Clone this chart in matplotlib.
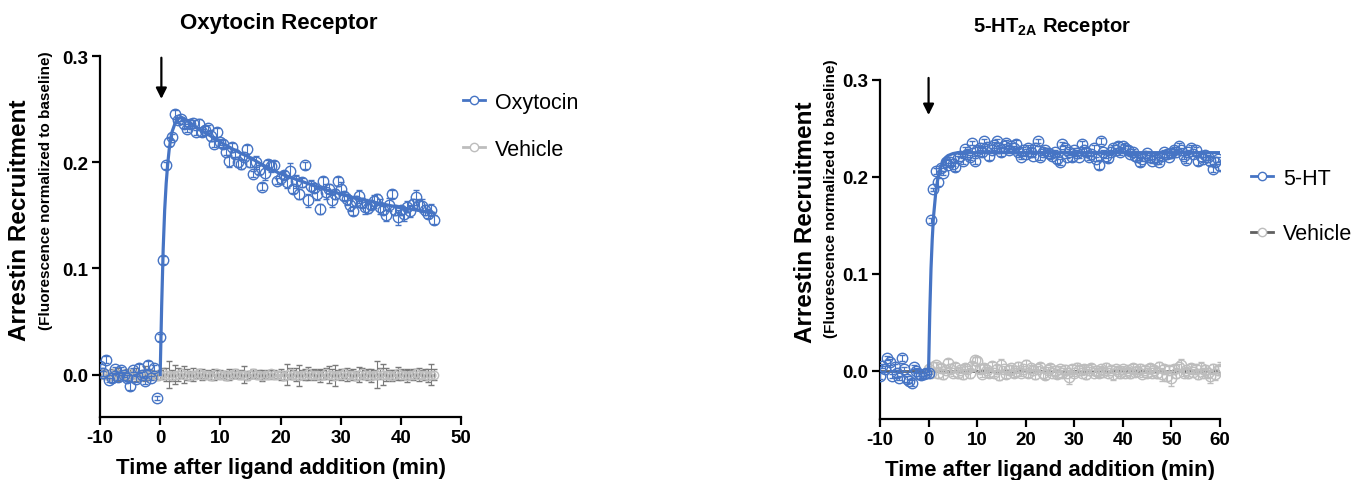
import numpy as np
import matplotlib
matplotlib.use("Agg")
import matplotlib.pyplot as plt
from matplotlib.lines import Line2D

plt.rcParams['font.family'] = ['Liberation Sans', 'DejaVu Sans']
plt.rcParams['mathtext.fontset'] = 'custom'
plt.rcParams['mathtext.rm'] = 'Liberation Sans:bold'
plt.rcParams['mathtext.bf'] = 'Liberation Sans:bold'
plt.rcParams['axes.unicode_minus'] = False

BLUE = '#4674c4'
LGRAY = '#bdbdbd'
DGRAY = '#7a7a7a'

# ---------------- Oxytocin receptor (left) ----------------
oxt_t = np.arange(-10, 45.51, 0.5)
oxt_y = [0.008, 0.001, 0.014, -0.005, -0.003, 0.005, -0.002, 0.004, 0.000, -0.003,
         -0.011, 0.004, -0.004, 0.006, 0.000, -0.006, 0.009, -0.003, 0.006, -0.022,
         0.035, 0.108, 0.197, 0.219, 0.224, 0.245, 0.240, 0.241, 0.236, 0.231,
         0.236, 0.237, 0.228, 0.236, 0.228, 0.230, 0.232, 0.225, 0.217, 0.228,
         0.219, 0.217, 0.210, 0.201, 0.214, 0.208, 0.200, 0.198, 0.205, 0.212,
         0.200, 0.189, 0.200, 0.193, 0.177, 0.190, 0.198, 0.196, 0.197, 0.182,
         0.185, 0.188, 0.181, 0.192, 0.175, 0.182, 0.170, 0.181, 0.197, 0.164,
         0.178, 0.176, 0.170, 0.156, 0.182, 0.172, 0.175, 0.164, 0.170, 0.182,
         0.175, 0.168, 0.165, 0.160, 0.154, 0.163, 0.168, 0.162, 0.158, 0.157,
         0.160, 0.163, 0.165, 0.158, 0.155, 0.150, 0.160, 0.170, 0.155, 0.148,
         0.155, 0.151, 0.158, 0.154, 0.161, 0.167, 0.160, 0.159, 0.155, 0.151,
         0.155, 0.146]
oxt_err = [0.002, 0.002, 0.003, 0.002, 0.004, 0.002, 0.003, 0.003, 0.002, 0.003,
           0.004, 0.002, 0.003, 0.004, 0.002, 0.003, 0.004, 0.002, 0.003, 0.002,
           0.003, 0.004, 0.003, 0.004, 0.003, 0.004, 0.003, 0.002, 0.004, 0.003,
           0.004, 0.003, 0.002, 0.005, 0.003, 0.004, 0.003, 0.005, 0.003, 0.004,
           0.003, 0.004, 0.003, 0.006, 0.004, 0.003, 0.005, 0.004, 0.003, 0.004,
           0.005, 0.003, 0.006, 0.004, 0.003, 0.007, 0.004, 0.005, 0.004, 0.003,
           0.006, 0.004, 0.005, 0.007, 0.004, 0.006, 0.005, 0.004, 0.003, 0.006,
           0.005, 0.004, 0.006, 0.005, 0.004, 0.007, 0.004, 0.006, 0.005, 0.004,
           0.006, 0.004, 0.005, 0.006, 0.004, 0.005, 0.006, 0.004, 0.007, 0.005,
           0.004, 0.006, 0.005, 0.007, 0.004, 0.005, 0.006, 0.004, 0.005, 0.007,
           0.004, 0.006, 0.005, 0.006, 0.004, 0.007, 0.005, 0.006, 0.005, 0.004,
           0.006, 0.004]
veh1_y = [0.000, 0.001, 0.000, -0.001, 0.000, 0.001, 0.000, 0.000, -0.001, 0.000,
          0.001, 0.000, 0.000, -0.001, 0.000, 0.001, 0.000, 0.000, 0.000, -0.001,
          0.000, 0.001, 0.000, 0.000, -0.001, 0.000, 0.000, 0.001, 0.000, 0.000,
          -0.001, 0.000, 0.000, 0.001, 0.000, 0.000, 0.000, -0.001, 0.000, 0.001,
          0.000, 0.000, -0.001, 0.000, 0.000, 0.001, 0.000, 0.000, 0.000, -0.001,
          0.000, 0.001, 0.000, 0.000, -0.001, 0.000, 0.000, 0.001, 0.000, 0.000,
          0.000, -0.001, 0.000, 0.001, 0.000, 0.000, -0.001, 0.000, 0.000, 0.001,
          0.000, 0.000, 0.000, -0.001, 0.000, 0.001, 0.000, 0.000, -0.001, 0.000,
          0.000, 0.001, 0.000, 0.000, 0.000, -0.001, 0.000, 0.001, 0.000, 0.000,
          -0.001, 0.000, 0.000, 0.001, 0.000, 0.000, 0.000, -0.001, 0.000, 0.001,
          0.000, 0.000, -0.001, 0.000, 0.000, 0.001, 0.000, 0.000, 0.000, -0.001,
          0.000, 0.000]
veh1_err = [0.003, 0.002, 0.004, 0.003, 0.005, 0.003, 0.006, 0.004, 0.003, 0.005,
            0.004, 0.003, 0.006, 0.004, 0.003, 0.007, 0.005, 0.004, 0.003, 0.004,
            0.004, 0.005, 0.006, 0.013, 0.005, 0.009, 0.006, 0.004, 0.008, 0.005,
            0.004, 0.006, 0.003, 0.004, 0.005, 0.003, 0.004, 0.004, 0.005, 0.003,
            0.004, 0.003, 0.004, 0.005, 0.003, 0.004, 0.003, 0.004, 0.008, 0.004,
            0.003, 0.004, 0.003, 0.004, 0.005, 0.003, 0.004, 0.003, 0.004, 0.003,
            0.005, 0.004, 0.010, 0.005, 0.004, 0.006, 0.010, 0.004, 0.005, 0.006,
            0.004, 0.005, 0.004, 0.006, 0.004, 0.005, 0.008, 0.005, 0.010, 0.004,
            0.005, 0.004, 0.006, 0.004, 0.005, 0.004, 0.007, 0.005, 0.004, 0.005,
            0.006, 0.004, 0.013, 0.005, 0.010, 0.006, 0.004, 0.005, 0.004, 0.006,
            0.005, 0.004, 0.006, 0.004, 0.005, 0.004, 0.006, 0.004, 0.005, 0.006,
            0.010, 0.005]
oxt_fit_t = [0, 0.25, 0.5, 0.75, 1.0, 1.25, 1.5, 1.75, 2.0, 2.5, 3.0, 3.5, 4, 5, 6,
             7, 8, 10, 12.5, 15, 17.5, 20, 22.5, 25, 27.5, 30, 32.5, 35, 37.5, 40,
             42.5, 45.5]
oxt_fit_y = [0.0, 0.065, 0.118, 0.155, 0.180, 0.198, 0.212, 0.222, 0.229, 0.237,
             0.241, 0.242, 0.241, 0.237, 0.233, 0.229, 0.226, 0.219, 0.211, 0.204,
             0.196, 0.189, 0.184, 0.179, 0.174, 0.170, 0.166, 0.163, 0.160, 0.157,
             0.155, 0.152]
veh1_fit_t = [-10, 45.5]
veh1_fit_y = [0.0, 0.0]

# ---------------- 5-HT2A receptor (right) ----------------
ht_t = np.arange(-10, 60.01, 0.5)
ht_y = [-0.006, 0.005, 0.002, 0.013, 0.009, -0.006, 0.004, -0.003, -0.008, 0.013,
        0.002, -0.009, -0.011, -0.013, 0.004, 0.000, -0.004, -0.005, -0.004, -0.003,
        -0.002, 0.155, 0.187, 0.206, 0.195, 0.209, 0.204, 0.215, 0.212, 0.215,
        0.213, 0.210, 0.219, 0.222, 0.216, 0.229, 0.224, 0.220, 0.235, 0.216,
        0.228, 0.230, 0.226, 0.237, 0.231, 0.222, 0.228, 0.233, 0.237, 0.230,
        0.226, 0.232, 0.235, 0.228, 0.232, 0.230, 0.234, 0.226, 0.220, 0.228,
        0.224, 0.230, 0.226, 0.222, 0.230, 0.237, 0.221, 0.226, 0.228, 0.225,
        0.224, 0.222, 0.226, 0.218, 0.215, 0.234, 0.230, 0.221, 0.226, 0.220,
        0.228, 0.225, 0.221, 0.234, 0.228, 0.226, 0.220, 0.224, 0.230, 0.218,
        0.212, 0.237, 0.226, 0.222, 0.219, 0.226, 0.230, 0.228, 0.232, 0.226,
        0.232, 0.230, 0.228, 0.224, 0.226, 0.222, 0.220, 0.215, 0.218, 0.222,
        0.225, 0.220, 0.216, 0.219, 0.218, 0.215, 0.222, 0.226, 0.224, 0.221,
        0.225, 0.228, 0.226, 0.232, 0.228, 0.222, 0.217, 0.226, 0.230, 0.224,
        0.228, 0.216, 0.222, 0.218, 0.223, 0.220, 0.216, 0.208, 0.215, 0.218,
        0.211]
ht_err = [0.003, 0.002, 0.003, 0.002, 0.003, 0.002, 0.003, 0.004, 0.002, 0.003,
          0.002, 0.003, 0.002, 0.003, 0.002, 0.003, 0.002, 0.003, 0.002, 0.002,
          0.002, 0.003, 0.002, 0.003, 0.004, 0.003, 0.002, 0.003, 0.002, 0.003,
          0.002, 0.004, 0.003, 0.002, 0.003, 0.002, 0.004, 0.003, 0.002, 0.003,
          0.003, 0.002, 0.004, 0.002, 0.003, 0.005, 0.002, 0.003, 0.002, 0.003,
          0.004, 0.002, 0.003, 0.002, 0.003, 0.002, 0.004, 0.003, 0.002, 0.003,
          0.002, 0.003, 0.004, 0.002, 0.003, 0.002, 0.004, 0.003, 0.002, 0.003,
          0.002, 0.003, 0.002, 0.004, 0.003, 0.002, 0.003, 0.002, 0.003, 0.004,
          0.002, 0.003, 0.002, 0.003, 0.002, 0.004, 0.003, 0.002, 0.003, 0.002,
          0.004, 0.003, 0.002, 0.003, 0.004, 0.002, 0.003, 0.002, 0.004, 0.003,
          0.002, 0.003, 0.004, 0.002, 0.003, 0.002, 0.003, 0.004, 0.002, 0.003,
          0.002, 0.003, 0.002, 0.004, 0.003, 0.002, 0.003, 0.002, 0.003, 0.002,
          0.004, 0.003, 0.002, 0.003, 0.002, 0.004, 0.003, 0.002, 0.003, 0.002,
          0.003, 0.004, 0.002, 0.003, 0.002, 0.003, 0.004, 0.003, 0.005, 0.003,
          0.004]
veh2_t = np.arange(0, 60.01, 0.5)
veh2_y = [0.002, -0.003, 0.004, 0.006, -0.002, 0.003, -0.004, 0.001, 0.008, 0.002,
          -0.003, 0.004, -0.002, 0.001, -0.004, 0.003, 0.002, -0.003, 0.005, 0.011,
          0.010, 0.002, -0.004, 0.003, 0.001, -0.002, 0.005, -0.003, 0.002, -0.005,
          0.006, 0.002, -0.004, 0.001, 0.003, -0.003, 0.000, 0.004, -0.002, 0.002,
          0.006, -0.003, 0.003, 0.001, -0.004, 0.002, 0.004, -0.002, -0.005, 0.001,
          0.003, -0.002, 0.000, -0.004, 0.002, -0.003, 0.001, -0.002, -0.007, 0.002,
          -0.003, 0.003, 0.001, -0.002, 0.002, -0.004, 0.001, 0.003, -0.002, 0.000,
          -0.003, 0.002, -0.001, 0.003, -0.002, 0.001, -0.004, 0.002, 0.000, -0.003,
          0.002, -0.002, 0.001, -0.003, 0.003, -0.001, 0.000, 0.002, -0.004, 0.001,
          -0.002, 0.003, -0.003, 0.001, -0.002, 0.004, -0.004, 0.002, -0.006, 0.001,
          -0.008, 0.002, -0.003, 0.004, 0.006, -0.002, 0.001, -0.003, 0.003, -0.001,
          0.002, -0.004, 0.003, -0.002, 0.001, -0.003, -0.006, 0.002, -0.004, 0.001,
          0.002]
veh2_err = [0.003, 0.004, 0.005, 0.003, 0.006, 0.004, 0.005, 0.003, 0.004, 0.005,
            0.003, 0.004, 0.006, 0.003, 0.005, 0.004, 0.003, 0.005, 0.004, 0.003,
            0.004, 0.005, 0.003, 0.004, 0.003, 0.005, 0.004, 0.003, 0.004, 0.005,
            0.006, 0.003, 0.004, 0.005, 0.003, 0.004, 0.003, 0.005, 0.004, 0.003,
            0.005, 0.004, 0.003, 0.004, 0.005, 0.003, 0.004, 0.006, 0.004, 0.003,
            0.004, 0.003, 0.005, 0.004, 0.003, 0.004, 0.005, 0.003, 0.007, 0.004,
            0.003, 0.005, 0.004, 0.003, 0.004, 0.005, 0.003, 0.004, 0.003, 0.005,
            0.004, 0.003, 0.004, 0.005, 0.003, 0.004, 0.006, 0.003, 0.004, 0.005,
            0.003, 0.004, 0.003, 0.005, 0.004, 0.003, 0.004, 0.005, 0.003, 0.004,
            0.005, 0.004, 0.003, 0.004, 0.006, 0.005, 0.007, 0.004, 0.005, 0.004,
            0.008, 0.004, 0.005, 0.003, 0.006, 0.004, 0.003, 0.005, 0.004, 0.003,
            0.004, 0.005, 0.006, 0.004, 0.005, 0.004, 0.007, 0.005, 0.006, 0.004,
            0.007]
ht_fit_t = [0, 0.25, 0.5, 0.75, 1.0, 1.5, 2.0, 2.5, 3.0, 3.5, 4, 5, 6, 60]
ht_fit_y = [0.0, 0.060, 0.105, 0.135, 0.158, 0.185, 0.201, 0.210, 0.216, 0.220,
            0.222, 0.224, 0.225, 0.225]
veh2_fit_t = [-10, 60]
veh2_fit_y = [0.0, 0.0]

W, H = 1356, 481
fig = plt.figure(figsize=(W / 100, H / 100), dpi=100)


def px(x, y):
    return x / W, 1 - y / H


def style_axes(ax):
    for s in ['top', 'right']:
        ax.spines[s].set_visible(False)
    for s in ['left', 'bottom']:
        ax.spines[s].set_linewidth(1.6)
    ax.tick_params(width=1.6, length=5.5, labelsize=13.5, pad=3)
    for lab in ax.get_xticklabels() + ax.get_yticklabels():
        lab.set_fontweight('bold')
    ax.set_xlabel('Time after ligand addition (min)', fontsize=16,
                  fontweight='bold', labelpad=8)


# left panel
ax1 = fig.add_axes([100 / W, 1 - 418 / H, 361 / W, 361 / H])
ax1.plot(veh1_fit_t, veh1_fit_y, color=LGRAY, lw=2.5, zorder=2)
ax1.errorbar(oxt_t, veh1_y, yerr=veh1_err, fmt='o', ms=6, mfc='none', mec=LGRAY,
             mew=1.0, ecolor=DGRAY, elinewidth=0.8, capsize=2, capthick=0.8, zorder=2)
ax1.errorbar(oxt_t, oxt_y, yerr=oxt_err, fmt='o', ms=7.5, mfc='none', mec=BLUE,
             mew=1.0, ecolor=BLUE, elinewidth=0.8, capsize=2, capthick=0.8, zorder=3)
ax1.plot(oxt_fit_t, oxt_fit_y, color=BLUE, lw=2.3, zorder=4)
ax1.set_xlim(-10, 50)
ax1.set_ylim(-0.04, 0.3)
ax1.set_xticks([-10, 0, 10, 20, 30, 40, 50])
ax1.set_yticks([0.0, 0.1, 0.2, 0.3])
ax1.set_yticklabels(['0.0', '0.1', '0.2', '0.3'])
style_axes(ax1)
ax1.annotate('', xy=(0.2, 0.257), xytext=(0.2, 0.301),
             arrowprops=dict(arrowstyle='-|>', color='black', lw=1.6, mutation_scale=16),
             annotation_clip=False)

# right panel
ax2 = fig.add_axes([880 / W, 1 - 420 / H, 340 / W, 339 / H])
ax2.plot(veh2_fit_t, veh2_fit_y, color='#606060', lw=2, zorder=2)
ax2.errorbar(veh2_t, veh2_y, yerr=veh2_err, fmt='o', ms=7.5, mfc='none', mec=LGRAY,
             mew=1.0, ecolor=LGRAY, elinewidth=0.8, capsize=2, capthick=0.8, zorder=2)
ax2.errorbar(ht_t, ht_y, yerr=ht_err, fmt='o', ms=7.5, mfc='none', mec=BLUE,
             mew=1.0, ecolor=BLUE, elinewidth=0.8, capsize=2, capthick=0.8, zorder=3)
ax2.plot(ht_fit_t, ht_fit_y, color=BLUE, lw=2.3, zorder=4)
ax2.set_xlim(-10, 60)
ax2.set_ylim(-0.05, 0.3)
ax2.set_xticks([-10, 0, 10, 20, 30, 40, 50, 60])
ax2.set_yticks([0.0, 0.1, 0.2, 0.3])
ax2.set_yticklabels(['0.0', '0.1', '0.2', '0.3'])
style_axes(ax2)
ax2.annotate('', xy=(0.0, 0.261), xytext=(0.0, 0.305),
             arrowprops=dict(arrowstyle='-|>', color='black', lw=1.6, mutation_scale=16),
             annotation_clip=False)

# titles
fig.text(*px(279, 23), 'Oxytocin Receptor', ha='center', va='center',
         fontsize=16, fontweight='bold')
fig.text(*px(1052, 27), r'5-HT$_{\mathbf{2A}}$ Receptor', ha='center', va='center',
         fontsize=14.5, fontweight='bold')

# y labels
for (x1, y1), (x2, y2) in [((20, 220), (46, 191)), ((806, 222), (831, 199))]:
    fig.text(*px(x1, y1), 'Arrestin Recruitment', rotation=90, ha='center',
             va='center', fontsize=17.5, fontweight='bold')
    fig.text(*px(x2, y2), '(Fluorescence normalized to baseline)', rotation=90,
             ha='center', va='center', fontsize=11, fontweight='bold')

# legends
def make_handle(line_color, marker_color):
    return Line2D([], [], color=line_color, lw=2, marker='o', ms=6, mfc='white',
                  mec=marker_color, mew=1.0)

fig.legend([make_handle(BLUE, BLUE), make_handle(LGRAY, LGRAY)], ['Oxytocin', 'Vehicle'],
           loc='upper left', bbox_to_anchor=px(463, 93), frameon=False, borderpad=0,
           borderaxespad=0, handlelength=1.0, handletextpad=0.5, labelspacing=1.2,
           fontsize=15.5)
fig.legend([make_handle(BLUE, BLUE), make_handle('#606060', LGRAY)], ['5-HT', 'Vehicle'],
           loc='upper left', bbox_to_anchor=px(1251, 169), frameon=False, borderpad=0,
           borderaxespad=0, handlelength=1.0, handletextpad=0.5, labelspacing=1.6,
           fontsize=15.5)

fig.savefig('out.png', dpi=100)
